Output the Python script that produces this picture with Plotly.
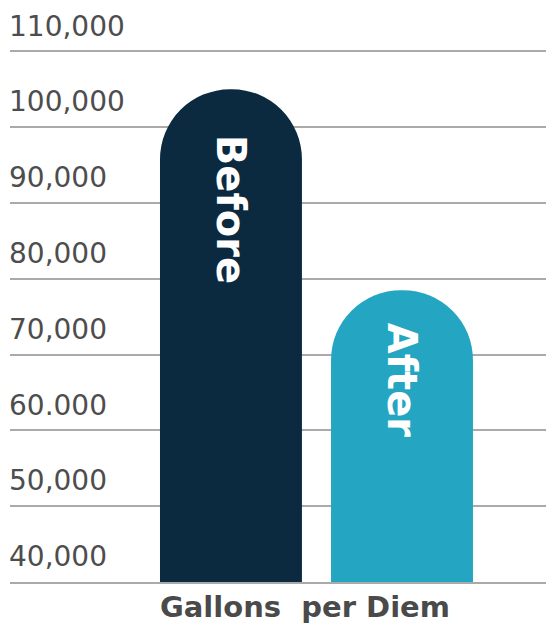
import plotly.graph_objects as go

categories = ["Before", "After"]
values = [105000, 78500]
bar_colors = ["#0c2a3f", "#24a5c1"]
tick_values = [40000, 50000, 60000, 70000, 80000, 90000, 100000, 110000]
tick_labels = ["40,000", "50,000", "60.000", "70,000", "80,000", "90,000", "100,000", "110,000"]
axis_title = "Gallons  per Diem"

fig = go.Figure(go.Bar(
    x=categories,
    y=values,
    marker=dict(color=bar_colors, cornerradius="50%", line=dict(width=0)),
    width=0.83,
    hoverinfo="skip",
))

# bar labels written vertically, a little below each rounded top
label_offsets = [-44, -31]
annotations = []
for cat, val, off in zip(categories, values, label_offsets):
    annotations.append(dict(
        text=cat, x=cat, y=val, xref="x", yref="y",
        xanchor="center", yanchor="top", yshift=off, textangle=90,
        showarrow=False,
        font=dict(family="DejaVu Sans", size=40, color="white", weight="bold"),
    ))
annotations.append(dict(
    text=axis_title, xref="paper", yref="paper", x=0.55, y=-0.043,
    xanchor="center", yanchor="middle", showarrow=False,
    font=dict(family="DejaVu Sans", size=29, color="#4a4a4a", weight="bold"),
))

fig.update_layout(
    width=546,
    height=625,
    margin=dict(l=10, r=0, t=5, b=43),
    paper_bgcolor="white",
    plot_bgcolor="white",
    showlegend=False,
    font=dict(family="DejaVu Sans", color="#4d4d4d"),
    annotations=annotations,
)
fig.update_xaxes(
    range=[-1.292, 1.842],
    showticklabels=False,
    showgrid=False,
    showline=True,
    linecolor="#aaaaaa",
    linewidth=2,
    ticks="",
    fixedrange=True,
)
fig.update_yaxes(
    range=[40000, 116120],
    tickvals=tick_values,
    ticktext=tick_labels,
    ticklabelposition="inside top",
    ticklabelstandoff=-4,
    ticklabelshift=-6,
    tickfont=dict(family="DejaVu Sans", size=28, color="#4d4d4d"),
    showgrid=True,
    gridcolor="#aaaaaa",
    gridwidth=2,
    zeroline=False,
    ticks="",
    layer="below traces",
    fixedrange=True,
)

fig.write_html(
    "out.html",
    config={"displayModeBar": False},
    post_script="document.body.style.margin='0';document.body.style.overflow='hidden';",
)
